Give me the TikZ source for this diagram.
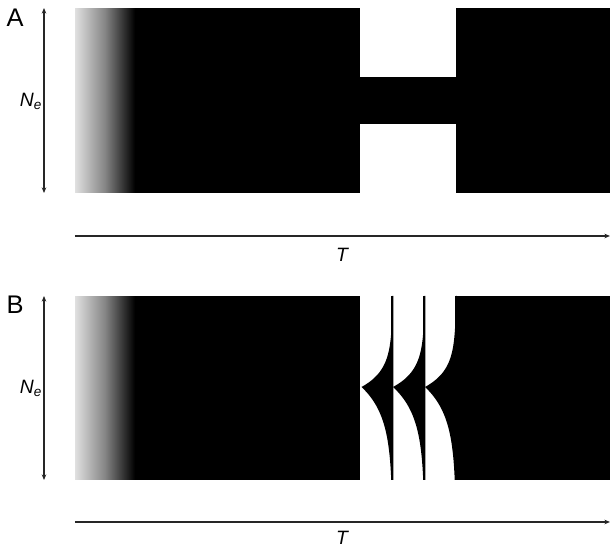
\documentclass[tikz,border=0pt]{standalone}
\usepackage{fontspec}
\setmainfont{Liberation Sans}
\usetikzlibrary{arrows.meta}

\begin{document}
\begin{tikzpicture}[
  x=0.02cm,y=-0.02cm,
  line cap=butt,line join=miter,
  panellabel/.style={font=\fontsize{14.5}{16}\selectfont,inner sep=0pt},
  axislabel/.style={font=\fontsize{11}{12}\selectfont\itshape,inner sep=0pt},
  dimarrow/.style={{Stealth[length=3.2pt,width=2.6pt]}-{Stealth[length=3.2pt,width=2.6pt]},
                   line width=.8pt,draw=black!85},
  timearrow/.style={-{Stealth[length=3.2pt,width=2.6pt]},line width=.8pt,draw=black!85}
]
\useasboundingbox (0,0) rectangle (610,546);

% Panel A: constant size with a bottleneck
\node[panellabel] (labA) at (15,18) {A};
\foreach \i in {0,...,59}{
  \pgfmathsetmacro\g{\i<30 ? 12+\i*1.2 : 48+(\i-30)*1.74}
  \fill[black!\g] (75+\i,8) rectangle (76.3+\i,193);
}
\fill[black] (135,8) rectangle (360,193);
\fill[black] (360,77) rectangle (456,124);
\fill[black] (456,8) rectangle (610,193);
\coordinate (neAtop) at (44,8);
\coordinate (neAbot) at (44,193);
\draw[dimarrow] (neAtop) -- (neAbot);
\node[axislabel] (neA) at (31,101) {N\textsubscript{e}};
\coordinate (tAstart) at (75,236);
\coordinate (tAend) at (610,236);
\draw[timearrow] (tAstart) -- (tAend);
\node[axislabel] (tA) at (342,255) {T};

% Panel B: repeated founder events
\begin{scope}[shift={(0,288)}]
  \node[panellabel] (labB) at (15,17) {B};
  \foreach \i in {0,...,59}{
    \pgfmathsetmacro\g{\i<30 ? 12+\i*1.2 : 48+(\i-30)*1.74}
    \fill[black!\g] (75+\i,8) rectangle (76.3+\i,192);
  }
  \fill[black] (135,8) rectangle (360,192);
  \foreach \tx/\lx in {361.5/392.5, 393/424.5, 425/456}{
    \fill[black] (\lx+1,8)
      -- plot[variable=\t,domain=91:0,samples=50] ({\lx-(\lx-\tx)*exp(-\t/17)},{99-\t})
      -- plot[variable=\t,domain=0:93,samples=50] ({\lx-(\lx-\tx)*exp(-\t/29)},{99+\t})
      -- (\lx+1,192) -- cycle;
    \fill[black] (\lx-1,8) rectangle (\lx+1,192);
  }
  \fill[black] (455.5,8) rectangle (610,192);
  \coordinate (neBtop) at (44,8);
  \coordinate (neBbot) at (44,192);
  \draw[dimarrow] (neBtop) -- (neBbot);
  \node[axislabel] (neB) at (31,100) {N\textsubscript{e}};
  \coordinate (tBstart) at (75,234);
  \coordinate (tBend) at (610,234);
  \draw[timearrow] (tBstart) -- (tBend);
  \node[axislabel] (tB) at (342,250) {T};
\end{scope}
\end{tikzpicture}
\end{document}
